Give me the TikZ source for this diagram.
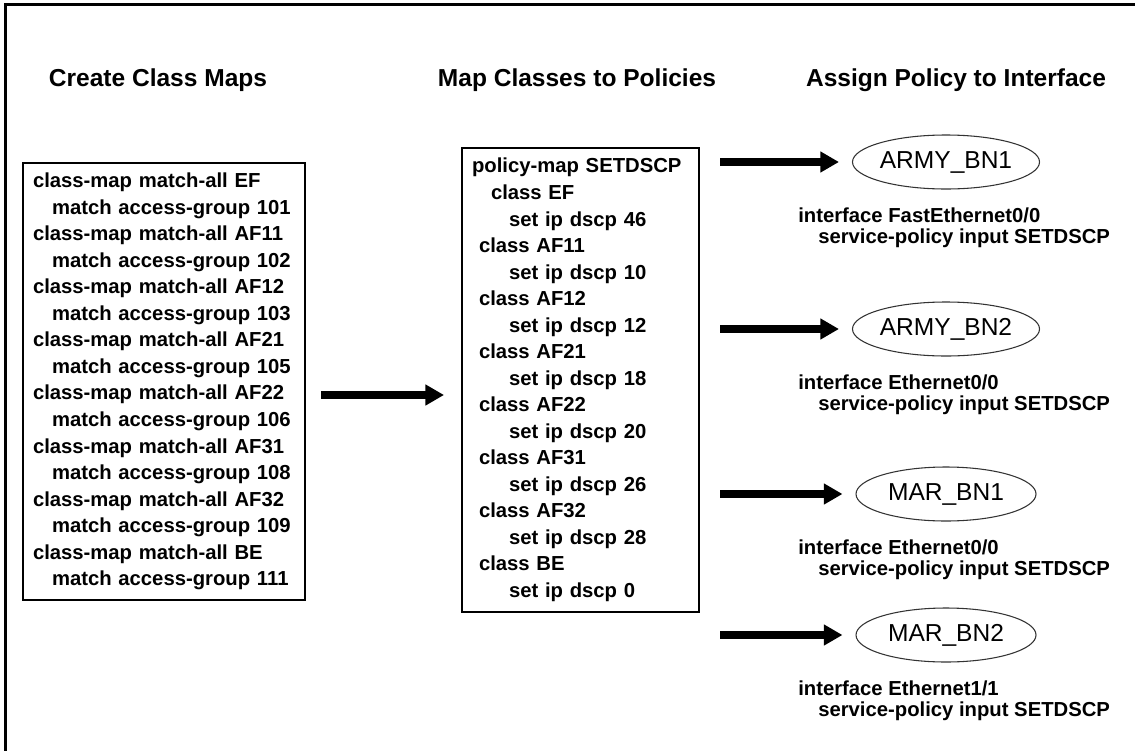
\documentclass[tikz,border=0pt]{standalone}
\usepackage{fontspec}
\setmainfont{Liberation Sans}
\usetikzlibrary{arrows.meta,shapes.geometric,calc}

\tikzset{
  headtext/.style={font=\bfseries\fontsize{18.4}{22}\selectfont, inner sep=0pt},
  listbox/.style={draw, line width=1.5pt, align=left, inner xsep=7.5pt, inner ysep=0pt,
    font=\bfseries\fontsize{15.2}{19.9}\selectfont},
  site/.style={ellipse, draw=black!80, line width=0.8pt, minimum width=135pt,
    minimum height=40.5pt, inner sep=0pt, font=\fontsize{18.4}{22}\selectfont},
  iftext/.style={font=\bfseries\fontsize{15.2}{19}\selectfont, anchor=base west, inner sep=0pt},
  bigarrow/.style={line width=5.5pt, -{Triangle[length=14pt,width=15pt]}}
}

\begin{document}
\begin{tikzpicture}[x=0.75pt,y=-0.75pt]
        \useasboundingbox (0,0) rectangle (1135,750);
        \clip (0,0) rectangle (1135,750);

        % Outer frame (runs off at right and bottom)
        \draw [line width=2.25pt] (5.5,4) rectangle (1150,765);%

        % Column headings
        \node [headtext, anchor=base] (headclass) at (158,86) {Create Class Maps};%
        \node [headtext, anchor=base] (headpolicy) at (577,86) {Map Classes to Policies};%
        \node [headtext, anchor=base] (headassign) at (956,86) {Assign Policy to Interface};%

        % Class maps
        \node [listbox, minimum width=211.5pt, minimum height=327.75pt, text width=196.5pt] (classbox) at (164,381.5) {%
          class-map match-all EF\\
          \hspace*{14.25pt}match access-group 101\\
          class-map match-all AF11\\
          \hspace*{14.25pt}match access-group 102\\
          class-map match-all AF12\\
          \hspace*{14.25pt}match access-group 103\\
          class-map match-all AF21\\
          \hspace*{14.25pt}match access-group 105\\
          class-map match-all AF22\\
          \hspace*{14.25pt}match access-group 106\\
          class-map match-all AF31\\
          \hspace*{14.25pt}match access-group 108\\
          class-map match-all AF32\\
          \hspace*{14.25pt}match access-group 109\\
          class-map match-all BE\\
          \hspace*{14.25pt}match access-group 111};%

        % Policy map
        \node [listbox, minimum width=177.75pt, minimum height=348pt, text width=162.75pt] (policybox) at (580.5,380) {%
          policy-map SETDSCP\\
          \hspace*{14.25pt}class EF\\
          \hspace*{27.75pt}set ip dscp 46\\
          \hspace*{5.25pt}class AF11\\
          \hspace*{27.75pt}set ip dscp 10\\
          \hspace*{5.25pt}class AF12\\
          \hspace*{27.75pt}set ip dscp 12\\
          \hspace*{5.25pt}class AF21\\
          \hspace*{27.75pt}set ip dscp 18\\
          \hspace*{5.25pt}class AF22\\
          \hspace*{27.75pt}set ip dscp 20\\
          \hspace*{5.25pt}class AF31\\
          \hspace*{27.75pt}set ip dscp 26\\
          \hspace*{5.25pt}class AF32\\
          \hspace*{27.75pt}set ip dscp 28\\
          \hspace*{5.25pt}class BE\\
          \hspace*{27.75pt}set ip dscp 0};%

        % Class maps into policy map
        \coordinate (feed) at ($(classbox.east)+(0,13.5)$);%
        \draw [bigarrow, shorten <=11.25pt, shorten >=12.75pt] (feed) -- (feed -| policybox.west);%

        % Interface ARMY_BN1
        \node [site] (army1) at (946,162) {ARMY\_BN1};%
        \draw [bigarrow, shorten <=15pt, shorten >=9.75pt] (policybox.east |- army1) -- (army1.west);%
        \node [iftext] (army1if) at (798,222) {interface FastEthernet0/0};%
        \node [iftext] (army1sp) at (818,243) {service-policy input SETDSCP};%

        % Interface ARMY_BN2
        \node [site] (army2) at (946,329) {ARMY\_BN2};%
        \draw [bigarrow, shorten <=15pt, shorten >=9.75pt] (policybox.east |- army2) -- (army2.west);%
        \node [iftext] (army2if) at (798,389) {interface Ethernet0/0};%
        \node [iftext] (army2sp) at (818,410) {service-policy input SETDSCP};%

        % Interface MAR_BN1
        \node [site] (mar1) at (946,494) {MAR\_BN1};%
        \draw [bigarrow, shorten <=15pt, shorten >=9.75pt] (policybox.east |- mar1) -- (mar1.west);%
        \node [iftext] (mar1if) at (798,554) {interface Ethernet0/0};%
        \node [iftext] (mar1sp) at (818,575) {service-policy input SETDSCP};%

        % Interface MAR_BN2
        \node [site] (mar2) at (946,635) {MAR\_BN2};%
        \draw [bigarrow, shorten <=15pt, shorten >=9.75pt] (policybox.east |- mar2) -- (mar2.west);%
        \node [iftext] (mar2if) at (798,695) {interface Ethernet1/1};%
        \node [iftext] (mar2sp) at (818,716) {service-policy input SETDSCP};%
    \end{tikzpicture}
\end{document}
